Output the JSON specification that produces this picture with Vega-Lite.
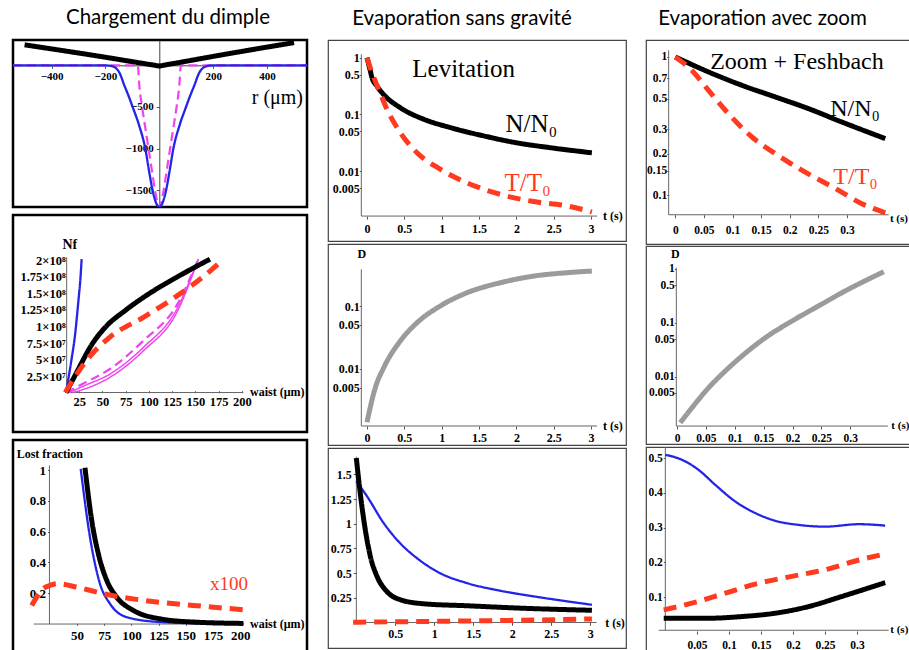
{
"$schema":"https://vega.github.io/schema/vega-lite/v6.json",
"background":"white",
"padding":{"left":11,"top":8,"right":0,"bottom":0},
"spacing":18,
"config":{
 "view":{"stroke":"#444","strokeWidth":1.2},
 "axis":{"labelFont":"Liberation Serif","labelFontWeight":"bold","labelColor":"#000","labelFontSize":12,"tickColor":"#555","tickSize":3,"tickCount":40,"domain":false,"grid":false,"labelFlush":false,"labelOverlap":false,"labelExpr":"format(datum.value,'~g')"},
 "title":{"font":"Lato","fontSize":20.5,"fontWeight":"normal","color":"#000","anchor":"middle","offset":10}
},
"hconcat":[
{"title":{"text":"Chargement du dimple","dx":8},"spacing":4,"vconcat":[
 {"width":294,"height":167,"view":{"stroke":"#000","strokeWidth":2.5},"layer":[
  {"data":{"values":[
   {"s":"md","x":-543,"y":0},{"s":"md","x":-80,"y":0},{"s":"md","x":-74,"y":-250},{"s":"md","x":-64,"y":-500},{"s":"md","x":-52,"y":-750},{"s":"md","x":-40,"y":-1000},{"s":"md","x":-28,"y":-1250},{"s":"md","x":-16,"y":-1500},{"s":"md","x":0,"y":-1700},{"s":"md","x":16,"y":-1500},{"s":"md","x":28,"y":-1250},{"s":"md","x":40,"y":-1000},{"s":"md","x":52,"y":-750},{"s":"md","x":64,"y":-500},{"s":"md","x":74,"y":-250},{"s":"md","x":80,"y":0},{"s":"md","x":548,"y":0},
   {"s":"b","x":-543,"y":0},{"s":"b","x":-210,"y":0},{"s":"b","x":-185,"y":-5},{"s":"b","x":-165,"y":-25},{"s":"b","x":-148,"y":-90},{"s":"b","x":-130,"y":-240},{"s":"b","x":-115,"y":-360},{"s":"b","x":-99,"y":-500},{"s":"b","x":-75,"y":-720},{"s":"b","x":-52,"y":-1000},{"s":"b","x":-38,"y":-1270},{"s":"b","x":-25,"y":-1500},{"s":"b","x":-12,"y":-1650},{"s":"b","x":0,"y":-1700},{"s":"b","x":12,"y":-1650},{"s":"b","x":25,"y":-1500},{"s":"b","x":38,"y":-1270},{"s":"b","x":52,"y":-1000},{"s":"b","x":75,"y":-720},{"s":"b","x":99,"y":-500},{"s":"b","x":115,"y":-360},{"s":"b","x":130,"y":-240},{"s":"b","x":148,"y":-90},{"s":"b","x":165,"y":-25},{"s":"b","x":185,"y":-5},{"s":"b","x":210,"y":0},{"s":"b","x":548,"y":0},
   {"s":"k","x":-500,"y":245},{"s":"k","x":-250,"y":122},{"s":"k","x":-20,"y":2},{"s":"k","x":0,"y":-8},{"s":"k","x":20,"y":3},{"s":"k","x":250,"y":135},{"s":"k","x":500,"y":272}
  ]},
  "mark":{"type":"line","interpolate":"monotone","clip":true},
  "encoding":{
   "x":{"field":"x","type":"quantitative","scale":{"domain":[-543,548],"nice":false,"zero":false},"axis":{"title":null,"values":[-400,-200,200,400],"labelExpr":"format(datum.value,'d')","offset":-141.7,"domain":true,"domainColor":"#444","labelFontSize":11,"labelPadding":2}},
   "y":{"field":"y","type":"quantitative","scale":{"domain":[-1699,303],"nice":false,"zero":false},"axis":{"title":null,"values":[-500,-1000,-1500],"labelExpr":"format(datum.value,'d')","offset":-146.3,"domain":true,"domainColor":"#444","labelFontSize":11,"labelPadding":3}},
   "color":{"field":"s","type":"nominal","legend":null,"scale":{"domain":["k","r","b","m1","m3","md","g"],"range":["#000000","#ff3a1e","#2424e8","#ee44ee","#ee44ee","#ee44ee","#9b9b9b"]}},
   "strokeDash":{"field":"s","type":"nominal","legend":null,"scale":{"domain":["k","r","b","m1","m3","md","g"],"range":[[1,0],[13,8],[1,0],[1,0],[1,0],[9,5],[1,0]]}},
   "strokeWidth":{"field":"s","type":"nominal","legend":null,"scale":{"type":"ordinal","domain":["k","r","b","m1","m3","md","g"],"range":[5,5,2.3,1.5,1.5,2.2,5]}}
  }},
  {"data":{"values":[{"x":343,"y":-392,"t":"r (μm)"}]},"mark":{"type":"text","font":"Liberation Serif","fontSize":20,"align":"left","baseline":"middle"},
   "encoding":{"x":{"field":"x","type":"quantitative","title":null},"y":{"field":"y","type":"quantitative","title":null},"text":{"field":"t"}}}
 ]},
 {"width":294,"height":217,"view":{"stroke":"#000","strokeWidth":2.5},"layer":[
  {"data":{"values":[{"x":9.7,"x2":201.4,"y":0,"y2":0},{"x":11.5,"x2":11.5,"y":0,"y2":20.5}]},"mark":{"type":"rule","color":"#666","strokeWidth":1},
   "encoding":{"x":{"field":"x","type":"quantitative","scale":{"domain":[-46.2,269.9],"nice":false,"zero":false},"axis":{"title":null,"values":[25,50,75,100,125,150,175,200],"offset":-41.3,"labelFontSize":12.5,"tickSize":2,"labelPadding":3}},
   "y":{"field":"y","type":"quantitative","scale":{"domain":[-5.98,26.89],"nice":false,"zero":false},"axis":{"title":null,"values":[2.5,5,7.5,10,12.5,15,17.5,20],"offset":-53.7,"labelFontSize":12.5,"tickSize":0,"labelPadding":1.5,"labelExpr":"datum.value >= 10 ? format(datum.value/10,'~g') + '×10⁸' : format(datum.value,'~g') + '×10⁷'"}},
   "x2":{"field":"x2"},"y2":{"field":"y2"}}},
  {"data":{"values":[
   {"s":"m1","x":18,"y":0},{"s":"m1","x":30,"y":0.5},{"s":"m1","x":58,"y":2.3},{"s":"m1","x":94,"y":6.33},{"s":"m1","x":129.8,"y":12.1},{"s":"m1","x":153,"y":20.2},
   {"s":"m3","x":14,"y":0},{"s":"m3","x":30,"y":1.0},{"s":"m3","x":58,"y":2.8},{"s":"m3","x":94,"y":6.85},{"s":"m3","x":129.8,"y":12.6},{"s":"m3","x":153,"y":20.2},
   {"s":"md","x":11,"y":0},{"s":"md","x":30,"y":1.4},{"s":"md","x":58,"y":3.56},{"s":"md","x":94,"y":7.85},{"s":"md","x":129.8,"y":13.2},{"s":"md","x":153,"y":20.2},
   {"s":"b","x":10.8,"y":0},{"s":"b","x":13.3,"y":2.05},{"s":"b","x":16.8,"y":5.08},{"s":"b","x":20.4,"y":8.6},{"s":"b","x":24,"y":13.7},{"s":"b","x":26.5,"y":17.7},{"s":"b","x":27.6,"y":20.2},
   {"s":"k","x":10.8,"y":0},{"s":"k","x":20.4,"y":2.55},{"s":"k","x":40.1,"y":7.6},{"s":"k","x":54.5,"y":10.1},{"s":"k","x":74.2,"y":12.4},{"s":"k","x":99.3,"y":14.9},{"s":"k","x":129.7,"y":17.45},{"s":"k","x":165.6,"y":20.2},
   {"s":"r","x":10,"y":0},{"s":"r","x":20,"y":2.3},{"s":"r","x":33,"y":4.9},{"s":"r","x":58,"y":8.4},{"s":"r","x":94,"y":11.4},{"s":"r","x":129.8,"y":14.6},{"s":"r","x":165.6,"y":18.4},{"s":"r","x":180,"y":20.2}
  ]},
  "mark":{"type":"line","interpolate":"monotone","clip":true},
  "encoding":{
   "x":{"field":"x","type":"quantitative","title":null},"y":{"field":"y","type":"quantitative","title":null},
   "color":{"field":"s","type":"nominal","legend":null,"scale":{"domain":["k","r","b","m1","m3","md","g"],"range":["#000000","#ff3a1e","#2424e8","#ee44ee","#ee44ee","#ee44ee","#9b9b9b"]}},
   "strokeDash":{"field":"s","type":"nominal","legend":null,"scale":{"domain":["k","r","b","m1","m3","md","g"],"range":[[1,0],[13,8],[1,0],[1,0],[1,0],[9,5],[1,0]]}},
   "strokeWidth":{"field":"s","type":"nominal","legend":null,"scale":{"type":"ordinal","domain":["k","r","b","m1","m3","md","g"],"range":[5,5,2.3,1.5,1.5,2.2,5]}}
  }},
  {"data":{"values":[{"x":208.6,"y":0.1,"t":"waist (μm)"}]},"mark":{"type":"text","font":"Liberation Serif","fontWeight":"bold","fontSize":12,"align":"left","baseline":"middle"},
   "encoding":{"x":{"field":"x","type":"quantitative","title":null},"y":{"field":"y","type":"quantitative","title":null},"text":{"field":"t"}}},
  {"data":{"values":[{"x":7,"y":22.3,"t":"Nf"}]},"mark":{"type":"text","font":"Liberation Serif","fontWeight":"bold","fontSize":14,"align":"left","baseline":"middle"},
   "encoding":{"x":{"field":"x","type":"quantitative","title":null},"y":{"field":"y","type":"quantitative","title":null},"text":{"field":"t"}}}
 ]},
 {"width":294,"height":213,"view":{"stroke":"#000","strokeWidth":2.5},"layer":[
  {"data":{"values":[{"x":10.2,"x2":203.1,"y":0,"y2":0},{"x":24.7,"x2":24.7,"y":0,"y2":1.03}]},"mark":{"type":"rule","color":"#666","strokeWidth":1},
   "encoding":{"x":{"field":"x","type":"quantitative","scale":{"domain":[-8.79,261.26],"nice":false,"zero":false},"axis":{"title":null,"values":[50,75,100,125,150,175,200],"offset":-29.7,"labelFontSize":13,"tickSize":2,"labelPadding":4}},
   "y":{"field":"y","type":"quantitative","scale":{"domain":[-0.188,1.195],"nice":false,"zero":false},"axis":{"title":null,"values":[0.2,0.4,0.6,0.8,1],"offset":-36.5,"labelFontSize":13,"tickSize":2,"labelPadding":2}},
   "x2":{"field":"x2"},"y2":{"field":"y2"}}},
  {"data":{"values":[
   {"s":"b","x":53.4,"y":1.008},{"s":"b","x":61.9,"y":0.565},{"s":"b","x":71.1,"y":0.262},{"s":"b","x":80.3,"y":0.132},{"s":"b","x":95.6,"y":0.045},{"s":"b","x":126.2,"y":0.013},{"s":"b","x":165,"y":0.004},{"s":"b","x":203,"y":0.001},
   {"s":"k","x":57.3,"y":1.015},{"s":"k","x":63.5,"y":0.673},{"s":"k","x":69.6,"y":0.456},{"s":"k","x":77.3,"y":0.284},{"s":"k","x":86.4,"y":0.175},{"s":"k","x":101.7,"y":0.089},{"s":"k","x":126.2,"y":0.034},{"s":"k","x":156.8,"y":0.013},{"s":"k","x":202.8,"y":0.004},
   {"s":"r","x":8.4,"y":0.121},{"s":"r","x":19,"y":0.23},{"s":"r","x":25.2,"y":0.251},{"s":"r","x":31.3,"y":0.262},{"s":"r","x":49.7,"y":0.24},{"s":"r","x":74.2,"y":0.197},{"s":"r","x":110.9,"y":0.154},{"s":"r","x":156.8,"y":0.121},{"s":"r","x":202.8,"y":0.093}
  ]},
  "mark":{"type":"line","interpolate":"monotone","clip":true},
  "encoding":{
   "x":{"field":"x","type":"quantitative","title":null},"y":{"field":"y","type":"quantitative","title":null},
   "color":{"field":"s","type":"nominal","legend":null,"scale":{"domain":["k","r","b","m1","m3","md","g"],"range":["#000000","#ff3a1e","#2424e8","#ee44ee","#ee44ee","#ee44ee","#9b9b9b"]}},
   "strokeDash":{"field":"s","type":"nominal","legend":null,"scale":{"domain":["k","r","b","m1","m3","md","g"],"range":[[1,0],[13,8],[1,0],[1,0],[1,0],[9,5],[1,0]]}},
   "strokeWidth":{"field":"s","type":"nominal","legend":null,"scale":{"type":"ordinal","domain":["k","r","b","m1","m3","md","g"],"range":[5,5,2.3,1.5,1.5,2.2,5]}}
  }},
  {"data":{"values":[{"x":-5.4,"y":1.106,"t":"Lost fraction"},{"x":208.9,"y":0.0,"t":"waist (μm)"}]},"mark":{"type":"text","font":"Liberation Serif","fontWeight":"bold","fontSize":12,"align":"left","baseline":"middle"},
   "encoding":{"x":{"field":"x","type":"quantitative","title":null},"y":{"field":"y","type":"quantitative","title":null},"text":{"field":"t"}}},
  {"data":{"values":[{"x":189.6,"y":0.262,"t":"x100"}]},"mark":{"type":"text","font":"Liberation Serif","fontSize":19,"align":"center","baseline":"middle","color":"#ff3a1e"},
   "encoding":{"x":{"field":"x","type":"quantitative","title":null},"y":{"field":"y","type":"quantitative","title":null},"text":{"field":"t"}}}
 ]}
]},
{"title":{"text":"Evaporation sans gravité","dx":-15},"spacing":1,"vconcat":[
 {"width":298,"height":201,"layer":[
  {"data":{"values":[{"x":-0.076,"x2":3.08,"y":0.00161,"y2":0.00161},{"x":-0.076,"x2":-0.076,"y":0.00161,"y2":1.15}]},"mark":{"type":"rule","color":"#666","strokeWidth":1},
   "encoding":{"x":{"field":"x","type":"quantitative","scale":{"domain":[-0.522,3.467],"nice":false,"zero":false},"axis":{"title":null,"values":[0,0.5,1,1.5,2,2.5,3],"offset":-24.9,"labelFontSize":12,"tickSize":3,"labelPadding":4}},
   "y":{"field":"y","type":"quantitative","scale":{"type":"log","domain":[0.000585,2.05],"nice":false},"axis":{"title":null,"values":[0.005,0.01,0.05,0.1,0.5,1],"offset":-33.3,"labelFontSize":12,"tickSize":2,"labelPadding":0}},
   "x2":{"field":"x2"},"y2":{"field":"y2"}}},
  {"data":{"values":[
   {"s":"k","x":0,"y":1.0},{"s":"k","x":0.04,"y":0.62},{"s":"k","x":0.067,"y":0.445},{"s":"k","x":0.13,"y":0.32},{"s":"k","x":0.22,"y":0.226},{"s":"k","x":0.446,"y":0.131},{"s":"k","x":0.76,"y":0.082},{"s":"k","x":1.115,"y":0.0586},{"s":"k","x":1.56,"y":0.0418},{"s":"k","x":2.0,"y":0.0316},{"s":"k","x":2.45,"y":0.0259},{"s":"k","x":3.01,"y":0.021},
   {"s":"r","x":0,"y":1.0},{"s":"r","x":0.067,"y":0.54},{"s":"r","x":0.156,"y":0.277},{"s":"r","x":0.268,"y":0.123},{"s":"r","x":0.446,"y":0.0476},{"s":"r","x":0.67,"y":0.021},{"s":"r","x":0.98,"y":0.0108},{"s":"r","x":1.34,"y":0.0062},{"s":"r","x":1.78,"y":0.0039},{"s":"r","x":2.23,"y":0.0029},{"s":"r","x":2.68,"y":0.00243},{"s":"r","x":3.01,"y":0.0019}
  ]},
  "mark":{"type":"line","interpolate":"monotone","clip":true},
  "encoding":{
   "x":{"field":"x","type":"quantitative","title":null},"y":{"field":"y","type":"quantitative","title":null},
   "color":{"field":"s","type":"nominal","legend":null,"scale":{"domain":["k","r","b","m1","m3","md","g"],"range":["#000000","#ff3a1e","#2424e8","#ee44ee","#ee44ee","#ee44ee","#9b9b9b"]}},
   "strokeDash":{"field":"s","type":"nominal","legend":null,"scale":{"domain":["k","r","b","m1","m3","md","g"],"range":[[1,0],[13,8],[1,0],[1,0],[1,0],[9,5],[1,0]]}},
   "strokeWidth":{"field":"s","type":"nominal","legend":null,"scale":{"type":"ordinal","domain":["k","r","b","m1","m3","md","g"],"range":[5,5,2.3,1.5,1.5,2.2,5]}}
  }},
  {"data":{"values":[{"x":1.294,"y":0.624,"t":"Levitation"},{"x":2.2,"y":0.0669,"t":"N/N₀"}]},"mark":{"type":"text","font":"Liberation Serif","fontSize":25,"align":"center","baseline":"middle","color":"#000"},
   "encoding":{"x":{"field":"x","type":"quantitative","title":null},"y":{"field":"y","type":"quantitative","title":null},"text":{"field":"t"}}},
  {"data":{"values":[{"x":2.15,"y":0.00624,"t":"T/T₀"}]},"mark":{"type":"text","font":"Liberation Serif","fontSize":25,"align":"center","baseline":"middle","color":"#ff3a1e"},
   "encoding":{"x":{"field":"x","type":"quantitative","title":null},"y":{"field":"y","type":"quantitative","title":null},"text":{"field":"t"}}},
  {"data":{"values":[{"x":3.16,"y":0.00161,"t":"t (s)"}]},"mark":{"type":"text","font":"Liberation Serif","fontWeight":"bold","fontSize":12,"align":"left","baseline":"middle"},
   "encoding":{"x":{"field":"x","type":"quantitative","title":null},"y":{"field":"y","type":"quantitative","title":null},"text":{"field":"t"}}}
 ]},
 {"width":298,"height":201,"layer":[
  {"data":{"values":[{"x":-0.076,"x2":3.08,"y":0.00122,"y2":0.00122},{"x":-0.076,"x2":-0.076,"y":0.00122,"y2":0.385}]},"mark":{"type":"rule","color":"#666","strokeWidth":1},
   "encoding":{"x":{"field":"x","type":"quantitative","scale":{"domain":[-0.522,3.467],"nice":false,"zero":false},"axis":{"title":null,"values":[0,0.5,1,1.5,2,2.5,3],"offset":-19,"labelFontSize":12,"tickSize":3,"labelPadding":3}},
   "y":{"field":"y","type":"quantitative","scale":{"type":"log","domain":[0.000607,0.975],"nice":false},"axis":{"title":null,"values":[0.005,0.01,0.05,0.1],"offset":-33.3,"labelFontSize":12,"tickSize":2,"labelPadding":0}},
   "x2":{"field":"x2"},"y2":{"field":"y2"}}},
  {"data":{"values":[
   {"s":"g","x":0,"y":0.0014},{"s":"g","x":0.111,"y":0.00498},{"s":"g","x":0.224,"y":0.0104},{"s":"g","x":0.446,"y":0.0277},{"s":"g","x":0.67,"y":0.0542},{"s":"g","x":0.98,"y":0.1},{"s":"g","x":1.34,"y":0.163},{"s":"g","x":1.785,"y":0.235},{"s":"g","x":2.23,"y":0.30},{"s":"g","x":2.68,"y":0.34},{"s":"g","x":3.01,"y":0.361}
  ]},
  "mark":{"type":"line","interpolate":"monotone","clip":true},
  "encoding":{
   "x":{"field":"x","type":"quantitative","title":null},"y":{"field":"y","type":"quantitative","title":null},
   "color":{"field":"s","type":"nominal","legend":null,"scale":{"domain":["k","r","b","m1","m3","md","g"],"range":["#000000","#ff3a1e","#2424e8","#ee44ee","#ee44ee","#ee44ee","#9b9b9b"]}},
   "strokeDash":{"field":"s","type":"nominal","legend":null,"scale":{"domain":["k","r","b","m1","m3","md","g"],"range":[[1,0],[13,8],[1,0],[1,0],[1,0],[9,5],[1,0]]}},
   "strokeWidth":{"field":"s","type":"nominal","legend":null,"scale":{"type":"ordinal","domain":["k","r","b","m1","m3","md","g"],"range":[5,5,2.3,1.5,1.5,2.2,5]}}
  }},
  {"data":{"values":[{"x":-0.127,"y":0.668,"t":"D"},{"x":3.16,"y":0.00122,"t":"t (s)"}]},"mark":{"type":"text","font":"Liberation Serif","fontWeight":"bold","fontSize":12,"align":"left","baseline":"middle"},
   "encoding":{"x":{"field":"x","type":"quantitative","title":null},"y":{"field":"y","type":"quantitative","title":null},"text":{"field":"t"}}}
 ]},
 {"width":298,"height":200,"layer":[
  {"data":{"values":[{"x":-0.04,"x2":3.08,"y":0,"y2":0},{"x":0,"x2":0,"y":0,"y2":1.68}]},"mark":{"type":"rule","color":"#666","strokeWidth":1},
   "encoding":{"x":{"field":"x","type":"quantitative","scale":{"domain":[-0.363,3.457],"nice":false,"zero":false},"axis":{"title":null,"values":[0.5,1,1.5,2,2.5,3],"offset":-25.7,"labelFontSize":12,"tickSize":3,"labelPadding":3}},
   "y":{"field":"y","type":"quantitative","scale":{"domain":[-0.258,1.768],"nice":false,"zero":false},"axis":{"title":null,"values":[0.25,0.5,0.75,1,1.25,1.5],"offset":-28.3,"labelFontSize":12,"tickSize":3,"labelPadding":2}},
   "x2":{"field":"x2"},"y2":{"field":"y2"}}},
  {"data":{"values":[
   {"s":"b","x":0,"y":1.43},{"s":"b","x":0.137,"y":1.279},{"s":"b","x":0.35,"y":1.008},{"s":"b","x":0.56,"y":0.805},{"s":"b","x":0.776,"y":0.653},{"s":"b","x":1.074,"y":0.50},{"s":"b","x":1.417,"y":0.40},{"s":"b","x":1.846,"y":0.322},{"s":"b","x":2.274,"y":0.265},{"s":"b","x":2.7,"y":0.215},{"s":"b","x":3.02,"y":0.18},
   {"s":"k","x":0,"y":1.667},{"s":"k","x":0.05,"y":1.312},{"s":"k","x":0.115,"y":0.94},{"s":"k","x":0.18,"y":0.67},{"s":"k","x":0.265,"y":0.468},{"s":"k","x":0.39,"y":0.316},{"s":"k","x":0.564,"y":0.231},{"s":"k","x":0.864,"y":0.19},{"s":"k","x":1.417,"y":0.17},{"s":"k","x":2.06,"y":0.147},{"s":"k","x":3.02,"y":0.124},
   {"s":"r","x":-0.04,"y":0.003},{"s":"r","x":1.0,"y":0.012},{"s":"r","x":2.0,"y":0.022},{"s":"r","x":3.02,"y":0.036}
  ]},
  "mark":{"type":"line","interpolate":"monotone","clip":true},
  "encoding":{
   "x":{"field":"x","type":"quantitative","title":null},"y":{"field":"y","type":"quantitative","title":null},
   "color":{"field":"s","type":"nominal","legend":null,"scale":{"domain":["k","r","b","m1","m3","md","g"],"range":["#000000","#ff3a1e","#2424e8","#ee44ee","#ee44ee","#ee44ee","#9b9b9b"]}},
   "strokeDash":{"field":"s","type":"nominal","legend":null,"scale":{"domain":["k","r","b","m1","m3","md","g"],"range":[[1,0],[13,8],[1,0],[1,0],[1,0],[9,5],[1,0]]}},
   "strokeWidth":{"field":"s","type":"nominal","legend":null,"scale":{"type":"ordinal","domain":["k","r","b","m1","m3","md","g"],"range":[5,5,2.3,1.5,1.5,2.2,5]}}
  }},
  {"data":{"values":[{"x":3.19,"y":0,"t":"t (s)"}]},"mark":{"type":"text","font":"Liberation Serif","fontWeight":"bold","fontSize":12,"align":"left","baseline":"middle"},
   "encoding":{"x":{"field":"x","type":"quantitative","title":null},"y":{"field":"y","type":"quantitative","title":null},"text":{"field":"t"}}}
 ]}
]},
{"title":{"text":"Evaporation avec zoom","dx":-18},"spacing":0,"vconcat":[
 {"width":269,"height":204,"layer":[
  {"data":{"values":[{"x":-0.0116,"x2":0.373,"y":0.0724,"y2":0.0724},{"x":-0.0116,"x2":-0.0116,"y":0.0724,"y2":1.12}]},"mark":{"type":"rule","color":"#666","strokeWidth":1},
   "encoding":{"x":{"field":"x","type":"quantitative","scale":{"domain":[-0.0512,0.4189],"nice":false,"zero":false},"axis":{"title":null,"values":[0,0.05,0.1,0.15,0.2,0.25,0.3],"offset":-29.3,"labelFontSize":11.5,"tickSize":3,"labelPadding":7}},
   "y":{"field":"y","type":"quantitative","scale":{"type":"log","domain":[0.0445,1.327],"nice":false},"axis":{"title":null,"values":[0.1,0.15,0.2,0.3,0.5,0.7,1],"offset":-22.7,"labelFontSize":11.5,"tickSize":2,"labelPadding":0}},
   "x2":{"field":"x2"},"y2":{"field":"y2"}}},
  {"data":{"values":[
   {"s":"k","x":0,"y":1.0},{"s":"k","x":0.058,"y":0.78},{"s":"k","x":0.1166,"y":0.624},{"s":"k","x":0.175,"y":0.514},{"s":"k","x":0.233,"y":0.423},{"s":"k","x":0.291,"y":0.339},{"s":"k","x":0.367,"y":0.257},
   {"s":"r","x":0,"y":1.0},{"s":"r","x":0.029,"y":0.80},{"s":"r","x":0.058,"y":0.574},{"s":"r","x":0.093,"y":0.389},{"s":"r","x":0.134,"y":0.264},{"s":"r","x":0.175,"y":0.2},{"s":"r","x":0.221,"y":0.152},{"s":"r","x":0.28,"y":0.112},{"s":"r","x":0.326,"y":0.087},{"s":"r","x":0.367,"y":0.0748}
  ]},
  "mark":{"type":"line","interpolate":"monotone","clip":true},
  "encoding":{
   "x":{"field":"x","type":"quantitative","title":null},"y":{"field":"y","type":"quantitative","title":null},
   "color":{"field":"s","type":"nominal","legend":null,"scale":{"domain":["k","r","b","m1","m3","md","g"],"range":["#000000","#ff3a1e","#2424e8","#ee44ee","#ee44ee","#ee44ee","#9b9b9b"]}},
   "strokeDash":{"field":"s","type":"nominal","legend":null,"scale":{"domain":["k","r","b","m1","m3","md","g"],"range":[[1,0],[13,8],[1,0],[1,0],[1,0],[9,5],[1,0]]}},
   "strokeWidth":{"field":"s","type":"nominal","legend":null,"scale":{"type":"ordinal","domain":["k","r","b","m1","m3","md","g"],"range":[5,5,2.3,1.5,1.5,2.2,5]}}
  }},
  {"data":{"values":[{"x":0.2126,"y":0.92,"t":"Zoom + Feshbach"},{"x":0.314,"y":0.423,"t":"N/N₀"}]},"mark":{"type":"text","font":"Liberation Serif","fontSize":24,"align":"center","baseline":"middle","color":"#000"},
   "encoding":{"x":{"field":"x","type":"quantitative","title":null},"y":{"field":"y","type":"quantitative","title":null},"text":{"field":"t"}}},
  {"data":{"values":[{"x":0.315,"y":0.1356,"t":"T/T₀"}]},"mark":{"type":"text","font":"Liberation Serif","fontSize":24,"align":"center","baseline":"middle","color":"#ff3a1e"},
   "encoding":{"x":{"field":"x","type":"quantitative","title":null},"y":{"field":"y","type":"quantitative","title":null},"text":{"field":"t"}}},
  {"data":{"values":[{"x":0.375,"y":0.0677,"t":"t (s)"}]},"mark":{"type":"text","font":"Liberation Serif","fontWeight":"bold","fontSize":11,"align":"left","baseline":"middle"},
   "encoding":{"x":{"field":"x","type":"quantitative","title":null},"y":{"field":"y","type":"quantitative","title":null},"text":{"field":"t"}}}
 ]},
 {"width":269,"height":198,"layer":[
  {"data":{"values":[{"x":-0.0012,"x2":0.365,"y":0.00121,"y2":0.00121},{"x":-0.0012,"x2":-0.0012,"y":0.00121,"y2":1.06}]},"mark":{"type":"rule","color":"#666","strokeWidth":1},
   "encoding":{"x":{"field":"x","type":"quantitative","scale":{"domain":[-0.0537,0.412],"nice":false,"zero":false},"axis":{"title":null,"values":[0,0.05,0.1,0.15,0.2,0.25,0.3],"offset":-18,"labelFontSize":11.5,"tickSize":3,"labelPadding":3}},
   "y":{"field":"y","type":"quantitative","scale":{"type":"log","domain":[0.000562,2.673],"nice":false},"axis":{"title":null,"values":[0.005,0.01,0.05,0.1,0.5,1],"offset":-30.3,"labelFontSize":11.5,"tickSize":2,"labelPadding":0}},
   "x2":{"field":"x2"},"y2":{"field":"y2"}}},
  {"data":{"values":[
   {"s":"g","x":0.0057,"y":0.0014},{"s":"g","x":0.026,"y":0.00266},{"s":"g","x":0.0548,"y":0.00625},{"s":"g","x":0.0837,"y":0.0128},{"s":"g","x":0.1125,"y":0.0242},{"s":"g","x":0.153,"y":0.053},{"s":"g","x":0.199,"y":0.108},{"s":"g","x":0.245,"y":0.206},{"s":"g","x":0.2856,"y":0.363},{"s":"g","x":0.358,"y":0.89}
  ]},
  "mark":{"type":"line","interpolate":"monotone","clip":true},
  "encoding":{
   "x":{"field":"x","type":"quantitative","title":null},"y":{"field":"y","type":"quantitative","title":null},
   "color":{"field":"s","type":"nominal","legend":null,"scale":{"domain":["k","r","b","m1","m3","md","g"],"range":["#000000","#ff3a1e","#2424e8","#ee44ee","#ee44ee","#ee44ee","#9b9b9b"]}},
   "strokeDash":{"field":"s","type":"nominal","legend":null,"scale":{"domain":["k","r","b","m1","m3","md","g"],"range":[[1,0],[13,8],[1,0],[1,0],[1,0],[9,5],[1,0]]}},
   "strokeWidth":{"field":"s","type":"nominal","legend":null,"scale":{"type":"ordinal","domain":["k","r","b","m1","m3","md","g"],"range":[5,5,2.3,1.5,1.5,2.2,5]}}
  }},
  {"data":{"values":[{"x":-0.0104,"y":1.875,"t":"D"}]},"mark":{"type":"text","font":"Liberation Serif","fontWeight":"bold","fontSize":12,"align":"left","baseline":"middle"},
   "encoding":{"x":{"field":"x","type":"quantitative","title":null},"y":{"field":"y","type":"quantitative","title":null},"text":{"field":"t"}}},
  {"data":{"values":[{"x":0.371,"y":0.00121,"t":"t (s)"}]},"mark":{"type":"text","font":"Liberation Serif","fontWeight":"bold","fontSize":11,"align":"left","baseline":"middle"},
   "encoding":{"x":{"field":"x","type":"quantitative","title":null},"y":{"field":"y","type":"quantitative","title":null},"text":{"field":"t"}}}
 ]},
 {"width":269,"height":206,"layer":[
  {"data":{"values":[{"x":-0.0098,"x2":0.3495,"y":0.005,"y2":0.005},{"x":0.0005,"x2":0.0005,"y":0.005,"y2":0.532}]},"mark":{"type":"rule","color":"#666","strokeWidth":1},
   "encoding":{"x":{"field":"x","type":"quantitative","scale":{"domain":[-0.0297,0.3906],"nice":false,"zero":false},"axis":{"title":null,"values":[0.05,0.1,0.15,0.2,0.25,0.3],"offset":-22,"labelFontSize":11.5,"tickSize":3,"labelPadding":5}},
   "y":{"field":"y","type":"quantitative","scale":{"domain":[-0.0604,0.532],"nice":false,"zero":false},"axis":{"title":null,"values":[0.1,0.2,0.3,0.4,0.5],"offset":-19.3,"labelFontSize":11.5,"tickSize":2,"labelPadding":1}},
   "x2":{"field":"x2"},"y2":{"field":"y2"}}},
  {"data":{"values":[
   {"s":"b","x":0.0005,"y":0.5095},{"s":"b","x":0.0266,"y":0.495},{"s":"b","x":0.0526,"y":0.466},{"s":"b","x":0.0786,"y":0.423},{"s":"b","x":0.11,"y":0.375},{"s":"b","x":0.141,"y":0.342},{"s":"b","x":0.172,"y":0.320},{"s":"b","x":0.209,"y":0.308},{"s":"b","x":0.25,"y":0.303},{"s":"b","x":0.303,"y":0.310},{"s":"b","x":0.344,"y":0.306},
   {"s":"k","x":-0.002,"y":0.0396},{"s":"k","x":0.068,"y":0.0396},{"s":"k","x":0.12,"y":0.0444},{"s":"k","x":0.172,"y":0.054},{"s":"k","x":0.224,"y":0.073},{"s":"k","x":0.276,"y":0.102},{"s":"k","x":0.344,"y":0.142},
   {"s":"r","x":-0.002,"y":0.0635},{"s":"r","x":0.042,"y":0.083},{"s":"r","x":0.094,"y":0.1115},{"s":"r","x":0.146,"y":0.140},{"s":"r","x":0.198,"y":0.16},{"s":"r","x":0.25,"y":0.179},{"s":"r","x":0.303,"y":0.207},{"s":"r","x":0.344,"y":0.2246}
  ]},
  "mark":{"type":"line","interpolate":"monotone","clip":true},
  "encoding":{
   "x":{"field":"x","type":"quantitative","title":null},"y":{"field":"y","type":"quantitative","title":null},
   "color":{"field":"s","type":"nominal","legend":null,"scale":{"domain":["k","r","b","m1","m3","md","g"],"range":["#000000","#ff3a1e","#2424e8","#ee44ee","#ee44ee","#ee44ee","#9b9b9b"]}},
   "strokeDash":{"field":"s","type":"nominal","legend":null,"scale":{"domain":["k","r","b","m1","m3","md","g"],"range":[[1,0],[13,8],[1,0],[1,0],[1,0],[9,5],[1,0]]}},
   "strokeWidth":{"field":"s","type":"nominal","legend":null,"scale":{"type":"ordinal","domain":["k","r","b","m1","m3","md","g"],"range":[5,5,2.3,1.5,1.5,2.2,5]}}
  }},
  {"data":{"values":[{"x":0.352,"y":0.005,"t":"t (s)"}]},"mark":{"type":"text","font":"Liberation Serif","fontWeight":"bold","fontSize":11,"align":"left","baseline":"middle"},
   "encoding":{"x":{"field":"x","type":"quantitative","title":null},"y":{"field":"y","type":"quantitative","title":null},"text":{"field":"t"}}}
 ]}
]}
]
}
